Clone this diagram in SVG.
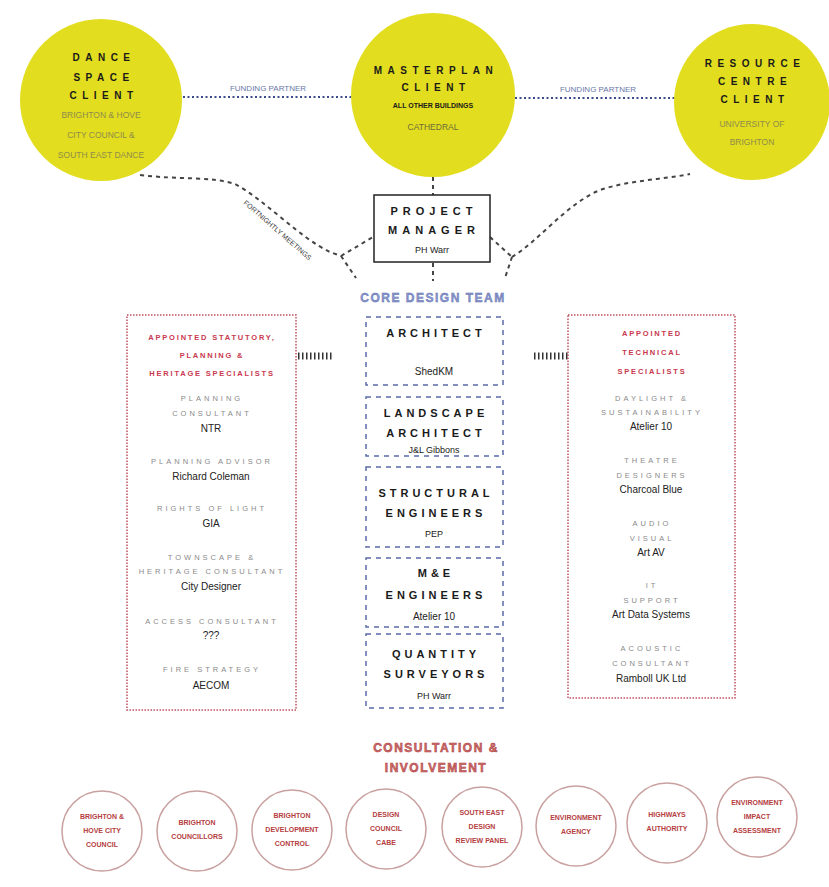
<svg xmlns="http://www.w3.org/2000/svg" width="829" height="887" viewBox="0 0 829 887">
<style>
text{font-family:"Liberation Sans",Arial,sans-serif;text-anchor:middle}
.ch{font-size:10px;font-weight:bold;letter-spacing:5.5px;fill:#1a1a1a}
.cs{font-size:8.5px;fill:#8f8c4a}
.h{font-size:11px;font-weight:bold;letter-spacing:4px;fill:#1a1a1a}
.v{font-size:10px;fill:#222}
.lbl{font-size:7.5px;letter-spacing:3px;fill:#8a8a8a}
.rh{font-size:7.5px;font-weight:bold;letter-spacing:1.8px;fill:#c8384e}
.fp{font-size:8px;fill:#6a78a8}
.bt{font-size:7px;font-weight:bold;fill:#b5403f}
.yc{fill:#e2dd1f}
.bc{fill:#fff;stroke:#c9a0a0;stroke-width:1.5}
.dash{fill:none;stroke:#444;stroke-width:2;stroke-dasharray:4 4}
.dot{fill:none;stroke:#3a4a8a;stroke-width:2;stroke-dasharray:2 2.5}
.core{fill:none;stroke:#5a6aa8;stroke-width:1.5;stroke-dasharray:5 5}
.red{fill:none;stroke:#c05060;stroke-width:1.5;stroke-dasharray:1.5 1.5}
.hash{stroke:#333;stroke-width:7;stroke-dasharray:1.5 2.5}
</style>
<rect width="829" height="887" fill="#fff"/>
<g id="connectors">
<line class="dot" x1="183" y1="97" x2="352" y2="97"/>
<line class="dot" x1="515" y1="98" x2="676" y2="98"/>
<text class="fp" x="268" y="91">FUNDING PARTNER</text>
<text class="fp" x="598" y="92">FUNDING PARTNER</text>
<path class="dash" d="M140,175 C180,180 210,176 235,184 C265,200 300,238 330,252 L341,256"/>
<path class="dash" d="M341,256 L373,237"/>
<path class="dash" d="M341,256 L356,278"/>
<path class="dash" d="M490,237 L512,257"/>
<path class="dash" d="M512,257 C540,240 565,205 600,190 C630,180 660,180 690,174"/>
<path class="dash" d="M512,257 L505,278"/>
<line class="dash" x1="433" y1="177" x2="433" y2="195"/>
<line class="dash" x1="433" y1="263" x2="433" y2="281"/>
<text transform="translate(276,232) rotate(41)" style="font-size:7px;fill:#333">FORTNIGHTLY MEETINGS</text>
<line class="hash" x1="298" y1="356" x2="334" y2="356"/>
<line class="hash" x1="534" y1="356" x2="568" y2="356"/>
</g>
<g id="dance-client">
<circle class="yc" cx="101" cy="100" r="81"/>
<text class="ch" x="104" y="61">DANCE</text>
<text class="ch" x="104" y="81">SPACE</text>
<text class="ch" x="104" y="99">CLIENT</text>
<text class="cs" x="101" y="118">BRIGHTON &amp; HOVE</text>
<text class="cs" x="101" y="138">CITY COUNCIL &amp;</text>
<text class="cs" x="101" y="158">SOUTH EAST DANCE</text>
</g>
<g id="masterplan-client">
<circle class="yc" cx="433" cy="95" r="82"/>
<text class="ch" x="436" y="74">MASTERPLAN</text>
<text class="ch" x="436" y="91">CLIENT</text>
<text x="433" y="108" style="font-size:7px;font-weight:bold;fill:#1a1a1a">ALL OTHER BUILDINGS</text>
<text class="cs" x="433" y="130" style="fill:#6e6c3a">CATHEDRAL</text>
</g>
<g id="resource-client">
<circle class="yc" cx="752" cy="102" r="78"/>
<text class="ch" x="755" y="67">RESOURCE</text>
<text class="ch" x="755" y="85">CENTRE</text>
<text class="ch" x="755" y="103">CLIENT</text>
<text class="cs" x="752" y="127">UNIVERSITY OF</text>
<text class="cs" x="752" y="145">BRIGHTON</text>
</g>
<g id="project-manager">
<rect x="374" y="195" width="116" height="67" fill="#fff" stroke="#222" stroke-width="1.5"/>
<text class="h" x="434" y="215" style="letter-spacing:5px">PROJECT</text>
<text class="h" x="434" y="234" style="letter-spacing:5px">MANAGER</text>
<text class="v" x="432" y="253" style="font-size:9px">PH Warr</text>
</g>
<g id="core-design-team">
<text x="433" y="302" style="font-size:12px;font-weight:bold;letter-spacing:1.5px;fill:#8a98d0;stroke:#5a6aa8;stroke-width:0.4">CORE DESIGN TEAM</text>
</g>
<g id="architect">
<rect class="core" x="366" y="317" width="137" height="68" fill="none"/>
<text class="h" x="436" y="337">ARCHITECT</text>
<text class="v" x="434" y="375">ShedKM</text>
</g>
<g id="landscape-architect">
<rect class="core" x="366" y="397" width="137" height="59"/>
<text class="h" x="436" y="417">LANDSCAPE</text>
<text class="h" x="436" y="437">ARCHITECT</text>
<text class="v" x="434" y="453" style="font-size:9px">J&amp;L Gibbons</text>
</g>
<g id="structural-engineers">
<rect class="core" x="366" y="467" width="137" height="80"/>
<text class="h" x="436" y="497">STRUCTURAL</text>
<text class="h" x="436" y="517">ENGINEERS</text>
<text class="v" x="434" y="537" style="font-size:9px">PEP</text>
</g>
<g id="me-engineers">
<rect class="core" x="366" y="558" width="137" height="69"/>
<text class="h" x="436" y="577">M&amp;E</text>
<text class="h" x="436" y="599">ENGINEERS</text>
<text class="v" x="434" y="620">Atelier 10</text>
</g>
<g id="quantity-surveyors">
<rect class="core" x="366" y="634" width="137" height="74"/>
<text class="h" x="436" y="658">QUANTITY</text>
<text class="h" x="436" y="678">SURVEYORS</text>
<text class="v" x="434" y="699" style="font-size:9px">PH Warr</text>
</g>
<g id="statutory-specialists">
<rect class="red" x="127" y="315" width="169" height="395"/>
<text class="rh" x="212" y="340">APPOINTED STATUTORY,</text>
<text class="rh" x="212" y="358">PLANNING  &amp;</text>
<text class="rh" x="212" y="376">HERITAGE SPECIALISTS</text>
<text class="lbl" x="212" y="401">PLANNING</text>
<text class="lbl" x="212" y="416">CONSULTANT</text>
<text class="v" x="211" y="432">NTR</text>
<text class="lbl" x="212" y="464">PLANNING ADVISOR</text>
<text class="v" x="211" y="480">Richard Coleman</text>
<text class="lbl" x="212" y="511">RIGHTS OF LIGHT</text>
<text class="v" x="211" y="527">GIA</text>
<text class="lbl" x="212" y="560">TOWNSCAPE &amp;</text>
<text class="lbl" x="212" y="574">HERITAGE CONSULTANT</text>
<text class="v" x="211" y="590">City Designer</text>
<text class="lbl" x="212" y="624">ACCESS CONSULTANT</text>
<text class="v" x="211" y="639">???</text>
<text class="lbl" x="212" y="672">FIRE STRATEGY</text>
<text class="v" x="211" y="689">AECOM</text>
</g>
<g id="technical-specialists">
<rect class="red" x="568" y="315" width="167" height="383"/>
<text class="rh" x="652" y="336">APPOINTED</text>
<text class="rh" x="652" y="355">TECHNICAL</text>
<text class="rh" x="652" y="374">SPECIALISTS</text>
<text class="lbl" x="652" y="401">DAYLIGHT &amp;</text>
<text class="lbl" x="652" y="415">SUSTAINABILITY</text>
<text class="v" x="651" y="430">Atelier 10</text>
<text class="lbl" x="652" y="463">THEATRE</text>
<text class="lbl" x="652" y="478">DESIGNERS</text>
<text class="v" x="651" y="493">Charcoal Blue</text>
<text class="lbl" x="652" y="526">AUDIO</text>
<text class="lbl" x="652" y="541">VISUAL</text>
<text class="v" x="651" y="556">Art AV</text>
<text class="lbl" x="652" y="588">IT</text>
<text class="lbl" x="652" y="603">SUPPORT</text>
<text class="v" x="651" y="618">Art Data Systems</text>
<text class="lbl" x="652" y="651">ACOUSTIC</text>
<text class="lbl" x="652" y="666">CONSULTANT</text>
<text class="v" x="651" y="682">Ramboll UK Ltd</text>
</g>
<g id="consultation-title">
<text x="436" y="752" style="font-size:12px;font-weight:bold;letter-spacing:1.5px;fill:#d07070;stroke:#a83535;stroke-width:0.5">CONSULTATION &amp;</text>
<text x="436" y="772" style="font-size:12px;font-weight:bold;letter-spacing:1.5px;fill:#d07070;stroke:#a83535;stroke-width:0.5">INVOLVEMENT</text>
</g>
<g id="brighton-hove-council">
<circle class="bc" cx="102" cy="831" r="40"/>
<text class="bt" x="102" y="819">BRIGHTON &amp;</text>
<text class="bt" x="102" y="833">HOVE CITY</text>
<text class="bt" x="102" y="847">COUNCIL</text>
</g>
<g id="brighton-councillors">
<circle class="bc" cx="197" cy="831" r="40"/>
<text class="bt" x="197" y="825">BRIGHTON</text>
<text class="bt" x="197" y="839">COUNCILLORS</text>
</g>
<g id="brighton-development-control">
<circle class="bc" cx="292" cy="830" r="40"/>
<text class="bt" x="292" y="818">BRIGHTON</text>
<text class="bt" x="292" y="832">DEVELOPMENT</text>
<text class="bt" x="292" y="846">CONTROL</text>
</g>
<g id="design-council-cabe">
<circle class="bc" cx="386" cy="829" r="40"/>
<text class="bt" x="386" y="817">DESIGN</text>
<text class="bt" x="386" y="831">COUNCIL</text>
<text class="bt" x="386" y="845">CABE</text>
</g>
<g id="south-east-design-review">
<circle class="bc" cx="482" cy="827" r="40"/>
<text class="bt" x="482" y="815">SOUTH EAST</text>
<text class="bt" x="482" y="829">DESIGN</text>
<text class="bt" x="482" y="843">REVIEW PANEL</text>
</g>
<g id="environment-agency">
<circle class="bc" cx="576" cy="826" r="40"/>
<text class="bt" x="576" y="820">ENVIRONMENT</text>
<text class="bt" x="576" y="834">AGENCY</text>
</g>
<g id="highways-authority">
<circle class="bc" cx="667" cy="823" r="40"/>
<text class="bt" x="667" y="817">HIGHWAYS</text>
<text class="bt" x="667" y="831">AUTHORITY</text>
</g>
<g id="environment-impact-assessment">
<circle class="bc" cx="757" cy="817" r="40"/>
<text class="bt" x="757" y="805">ENVIRONMENT</text>
<text class="bt" x="757" y="819">IMPACT</text>
<text class="bt" x="757" y="833">ASSESSMENT</text>
</g>
</svg>
